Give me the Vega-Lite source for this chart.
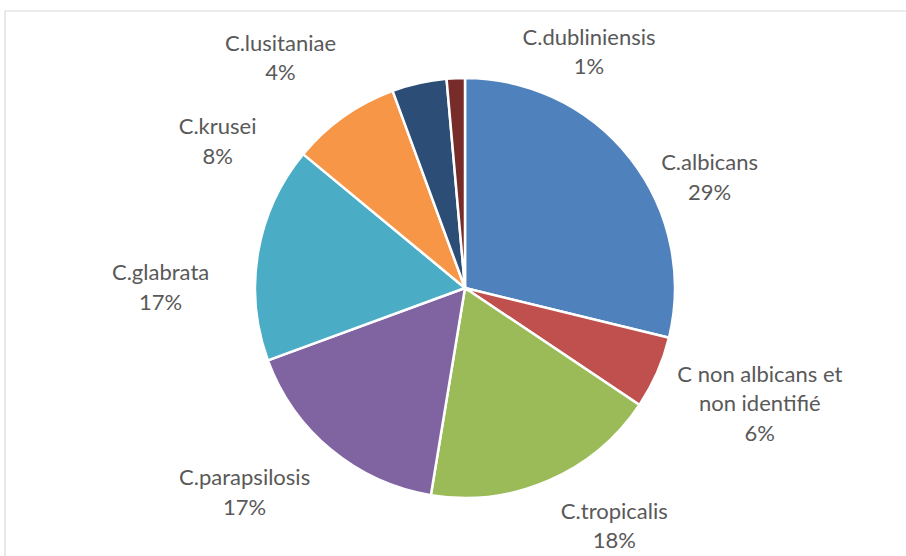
{
  "$schema": "https://vega.github.io/schema/vega-lite/v6.json",
  "width": 920,
  "height": 554,
  "autosize": "none",
  "padding": {"left": 5, "top": 11, "right": 0, "bottom": 0},
  "background": "white",
  "config": {"view": {"stroke": null}, "text": {"font": "Lato", "fontSize": 22, "lineHeight": 29.5, "lineBreak": "\n", "fill": "#595959", "radius": 250}},
  "data": {
    "values": [
      {"order": 1, "name": "C.albicans", "value": 0.288, "label": "C.albicans\n29%"},
      {"order": 2, "name": "C non albicans et non identifié", "value": 0.056, "label": "C non albicans et\nnon identifié\n6%"},
      {"order": 3, "name": "C.tropicalis", "value": 0.182, "label": "C.tropicalis\n18%"},
      {"order": 4, "name": "C.parapsilosis", "value": 0.168, "label": "C.parapsilosis\n17%"},
      {"order": 5, "name": "C.glabrata", "value": 0.166, "label": "C.glabrata\n17%"},
      {"order": 6, "name": "C.krusei", "value": 0.084, "label": "C.krusei\n8%"},
      {"order": 7, "name": "C.lusitaniae", "value": 0.042, "label": "C.lusitaniae\n4%"},
      {"order": 8, "name": "C.dubliniensis", "value": 0.014, "label": "C.dubliniensis\n1%"}
    ]
  },
  "layer": [
    {
      "data": {"values": [{"frame": 1}]},
      "mark": {"type": "rect", "fill": "white", "stroke": "#D9D9D9", "strokeWidth": 1.2}
    },
    {
      "encoding": {
        "theta": {"field": "value", "type": "quantitative", "stack": true},
        "order": {"field": "order", "type": "quantitative"}
      },
      "layer": [
        {
          "mark": {"type": "arc", "radius": 210, "stroke": "white", "strokeWidth": 2.5},
          "encoding": {
            "color": {
              "field": "name",
              "type": "nominal",
              "legend": null,
              "scale": {
                "domain": ["C.albicans", "C non albicans et non identifié", "C.tropicalis", "C.parapsilosis", "C.glabrata", "C.krusei", "C.lusitaniae", "C.dubliniensis"],
                "range": ["#4F81BD", "#C0504D", "#9BBB59", "#8064A2", "#4BACC6", "#F79646", "#2C4D75", "#772C2A"]
              }
            }
          }
        },
        {
          "mark": {"type": "text", "dx": 48, "dy": 29.5},
          "encoding": {"text": {"condition": {"test": "datum.name === 'C.albicans'", "field": "label"}, "value": ""}}
        },
        {
          "mark": {"type": "text", "dx": 66, "dy": -14},
          "encoding": {"text": {"condition": {"test": "datum.name === 'C non albicans et non identifié'", "field": "label"}, "value": ""}}
        },
        {
          "mark": {"type": "text", "dx": 50, "dy": -5.5},
          "encoding": {"text": {"condition": {"test": "datum.name === 'C.tropicalis'", "field": "label"}, "value": ""}}
        },
        {
          "mark": {"type": "text", "dx": -61, "dy": -2.5},
          "encoding": {"text": {"condition": {"test": "datum.name === 'C.parapsilosis'", "field": "label"}, "value": ""}}
        },
        {
          "mark": {"type": "text", "dx": -58, "dy": 27.5},
          "encoding": {"text": {"condition": {"test": "datum.name === 'C.glabrata'", "field": "label"}, "value": ""}}
        },
        {
          "mark": {"type": "text", "dx": -103, "dy": 43.5},
          "encoding": {"text": {"condition": {"test": "datum.name === 'C.krusei'", "field": "label"}, "value": ""}}
        },
        {
          "mark": {"type": "text", "dx": -130, "dy": -0.5},
          "encoding": {"text": {"condition": {"test": "datum.name === 'C.lusitaniae'", "field": "label"}, "value": ""}}
        },
        {
          "mark": {"type": "text", "dx": 135, "dy": -0.5},
          "encoding": {"text": {"condition": {"test": "datum.name === 'C.dubliniensis'", "field": "label"}, "value": ""}}
        }
      ]
    }
  ]
}
